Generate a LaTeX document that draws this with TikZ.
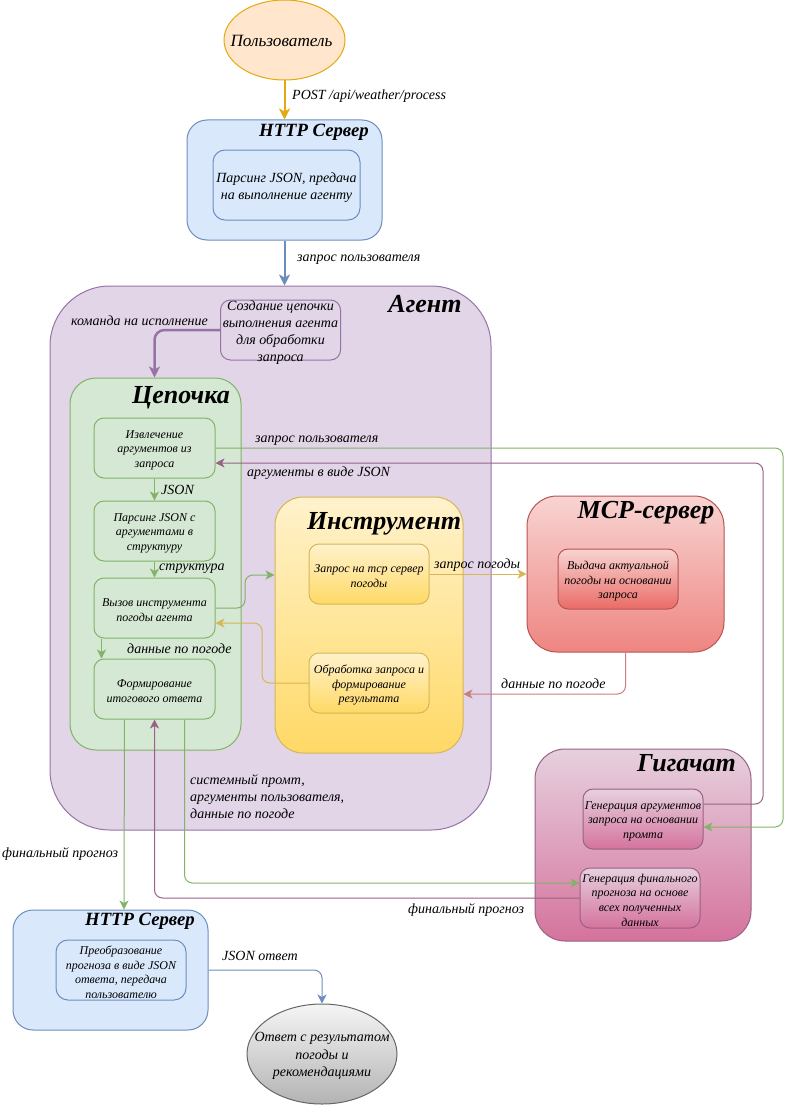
\documentclass[tikz,border=0pt]{standalone}
\usepackage{fontspec}
\setmainfont{Liberation Serif}
\usetikzlibrary{arrows.meta,shapes.geometric}
\definecolor{bluef}{HTML}{DAE8FC}\definecolor{blued}{HTML}{6C8EBF}
\definecolor{greenf}{HTML}{D5E8D4}\definecolor{greend}{HTML}{82B366}
\definecolor{purpf}{HTML}{E1D5E7}\definecolor{purpd}{HTML}{9673A6}
\definecolor{orgf}{HTML}{FFE6CC}\definecolor{orgd}{HTML}{D79B00}
\definecolor{orgl}{HTML}{E3A90F}
\definecolor{yelt}{HTML}{FFF2CC}\definecolor{yelb}{HTML}{FFD966}\definecolor{yeld}{HTML}{D6B656}
\definecolor{redt}{HTML}{F8D4D2}\definecolor{redb}{HTML}{EE8581}\definecolor{redi}{HTML}{EA6B66}\definecolor{redd}{HTML}{B85450}
\definecolor{pinkt}{HTML}{E6D0DE}\definecolor{pinkb}{HTML}{D5739D}\definecolor{pinkd}{HTML}{996185}
\definecolor{greyt}{HTML}{F5F5F5}\definecolor{greyb}{HTML}{B3B3B3}\definecolor{greyd}{HTML}{666666}
\tikzset{
 x=1pt,y=-1pt,
 f11/.style={font=\fontsize{12}{14.7}\selectfont\itshape},
 f13/.style={font=\fontsize{14}{17}\selectfont\itshape},
 f16/.style={font=\fontsize{17.2}{19}\selectfont\itshape},
 ttl16/.style={font=\fontsize{18.7}{21}\selectfont\bfseries\itshape,inner sep=0},
 ttl24/.style={font=\fontsize{26}{30}\selectfont\bfseries\itshape,inner sep=0},
 txt/.style={align=center,inner sep=0,yshift=-2.2pt},
 small/.style={txt,f11},
 lbl/.style={font=\fontsize{14}{17}\selectfont\itshape,inner sep=0,anchor=west,align=left,yshift=-2pt},
 base/.style={draw,inner sep=0,align=center,line width=1pt},
 bluebox/.style={base,draw=blued,fill=bluef},
 greenbox/.style={base,draw=greend,fill=greenf,rounded corners=10pt,minimum width=121pt,minimum height=60pt},
 purpbox/.style={base,draw=purpd,fill=purpf},
 yelbox/.style={base,draw=yeld,top color=yelt,bottom color=yelb},
 redbox/.style={base,draw=redd,top color=redt,bottom color=redb},
 pinkbox/.style={base,draw=pinkd,top color=pinkt,bottom color=pinkb},
 conn/.style={line width=1pt,rounded corners=8pt,-{Stealth[length=9pt,width=9pt,inset=2.5pt]}},
 connthick/.style={line width=2pt,rounded corners=10pt,-{Stealth[length=11pt,width=11pt,inset=3pt]}},
}
\begin{document}
\begin{tikzpicture}
\useasboundingbox (0,0) rectangle (792,1105);
% containers
\node[ellipse,draw=orgl,fill=orgf,line width=1pt,inner sep=0,minimum width=121pt,minimum height=80pt] (user) at (284.5,40) {};
\node[f16,txt,yshift=1pt] (usert) at (281.5,40) {Пользователь};
\node[bluebox,rounded corners=20pt,minimum width=195pt,minimum height=120pt] (http1) at (284.5,180) {};
\node[ttl16] (http1t) at (314,132) {HTTP Сервер};
\node[bluebox,rounded corners=12pt,minimum width=147pt,minimum height=70pt] (parse) at (286.5,185) {};
\node[f13,txt] (parset) at (parse) {Парсинг JSON, предача\\на выполнение агенту};
\node[purpbox,rounded corners=60pt,minimum width=441pt,minimum height=544pt] (agent) at (270.5,558) {};
\node[ttl24] (agentt) at (425,304.5) {Агент};
\node[purpbox,rounded corners=10pt,minimum width=120pt,minimum height=60pt] (create) at (280.5,330) {};
\node[f13,txt] (createt) at (create) {Создание цепочки\\выполнения агента\\для обработки\\запроса};
\node[base,draw=greend,fill=greenf,rounded corners=26pt,minimum width=171pt,minimum height=372pt] (chain) at (155.5,564) {};
\node[ttl24] (chaint) at (181,398) {Цепочка};
\node[greenbox] (extract) at (154.5,448) {};
\node[small] (extractt) at (extract) {Извлечение\\аргументов из\\запроса};
\node[greenbox] (jsonparse) at (154.5,531) {};
\node[small] (jsonparset) at (jsonparse) {Парсинг JSON с\\аргументами в\\структуру};
\node[greenbox] (call) at (154.5,608) {};
\node[small] (callt) at (call) {Вызов инструмента\\погоды агента};
\node[greenbox] (form) at (154.5,689) {};
\node[small] (formt) at (form) {Формирование\\итогового ответа};
\node[yelbox,rounded corners=28pt,minimum width=188pt,minimum height=256pt] (tool) at (369,625) {};
\node[ttl24] (toolt) at (384,524) {Инструмент};
\node[yelbox,rounded corners=10pt,minimum width=120pt,minimum height=60pt] (query) at (369,574) {};
\node[small] (queryt) at (query) {Запрос на mcp сервер\\погоды};
\node[yelbox,rounded corners=10pt,minimum width=120pt,minimum height=60pt] (proc) at (369,683) {};
\node[small] (proct) at (proc) {Обработка запроса и\\формирование\\результата};
\node[redbox,rounded corners=30pt,minimum width=197pt,minimum height=156pt] (mcp) at (625.5,574) {};
\node[ttl24] (mcpt) at (646,513) {MCP-сервер};
\node[redbox,bottom color=redi,rounded corners=10pt,minimum width=120pt,minimum height=60pt] (issue) at (618,579) {};
\node[small] (issuet) at (issue) {Выдача актуальной\\погоды на основании\\запроса};
\node[pinkbox,rounded corners=30pt,minimum width=216pt,minimum height=192pt] (giga) at (643,845) {};
\node[ttl24] (gigat) at (686.5,763.5) {Гигачат};
\node[pinkbox,rounded corners=10pt,minimum width=120pt,minimum height=60pt] (gen1) at (643,819) {};
\node[small] (gen1t) at (gen1) {Генерация аргументов\\запроса на основании\\промта};
\node[pinkbox,rounded corners=10pt,minimum width=120pt,minimum height=60pt] (gen2) at (640,898) {};
\node[small] (gen2t) at (gen2) {Генерация финального\\прогноза на основе\\всех полученных\\данных};
\node[bluebox,rounded corners=20pt,minimum width=195pt,minimum height=120pt] (http2) at (110.5,970) {};
\node[ttl16] (http2t) at (140,921) {HTTP Сервер};
\node[bluebox,rounded corners=12pt,minimum width=130pt,minimum height=60pt] (conv) at (121,970) {};
\node[small] (convt) at (conv) {Преобразование\\прогноза в виде JSON\\ответа, передача\\пользователю};
\node[ellipse,draw=greyd,top color=greyt,bottom color=greyb,line width=1pt,inner sep=0,minimum width=150pt,minimum height=100pt] (answer) at (322,1054) {};
\node[font=\fontsize{14}{17.5}\selectfont\itshape,txt] (answert) at (answer) {Ответ с результатом\\погоды и\\рекомендациями};
% connectors
\draw[connthick,draw=orgl] (user.south) -- (http1.north);
\draw[connthick,draw=blued] (http1.south) -- (http1.south |- agent.north);
\draw[connthick,draw=purpd,line width=2.5pt] (create.west) -| (chain.north -| extract.north);
\draw[conn,draw=greend] (extract.south) -- (jsonparse.north);
\draw[conn,draw=greend] (jsonparse.south) -- (call.north);
\draw[conn,draw=greend] ([xshift=-53pt]call.south) -- ([xshift=-53pt]form.north);
\draw[conn,draw=greend] ([xshift=-30pt]form.south) -- ([xshift=13.5pt]http2.north);
\draw[conn,draw=greend] ([xshift=30pt]form.south) |- ([yshift=15pt]gen2.west);
\draw[conn,draw=pinkd] (gen2.west) -| (form.south);
\draw[conn,draw=greend] (call.east) -- (245,608) -- (245,575) -- ([yshift=50pt]tool.west);
\draw[conn,draw=yeld] (proc.west) -- (262,683) -- (262,623) -- ([yshift=-15pt]call.east);
\draw[conn,draw=yeld] (query.east) -- (mcp.west);
\draw[conn,draw=redd!75] (mcp.south) |- ([yshift=-69pt]tool.east);
\draw[conn,draw=greend] (extract.east) -- (783,448) -- (783,827) -- ([yshift=-8pt]gen1.east);
\draw[conn,draw=pinkd] ([yshift=15pt]gen1.east) -- (763,804) -- (763,463) -- ([yshift=-15pt]extract.east);
\draw[conn,draw=blued] (http2.east) -| (answer.north);
% labels
\node[lbl] (l1) at (292,94) {POST /api/weather/process};
\node[lbl] (l2) at (297,258) {запрос пользователя};
\node[lbl] (l3) at (71,319) {команда на исполнение};
\node[lbl] (l4) at (255,439) {запрос пользователя};
\node[lbl] (l5) at (247,471) {аргументы в виде JSON};
\node[lbl] (l6) at (161,488) {JSON};
\node[lbl] (l7) at (159,567) {структура};
\node[lbl] (l8) at (434,563) {запрос погоды};
\node[lbl] (l9) at (127,647) {данные по погоде};
\node[lbl] (l10) at (501,682) {данные по погоде};
\node[lbl] (l11) at (190,795) {системный промт,\\аргументы пользователя,\\данные по погоде};
\node[lbl] (l12) at (2,852) {финальный прогноз};
\node[lbl] (l13) at (408,908) {финальный прогноз};
\node[lbl] (l14) at (222,954) {JSON ответ};
\end{tikzpicture}
\end{document}
